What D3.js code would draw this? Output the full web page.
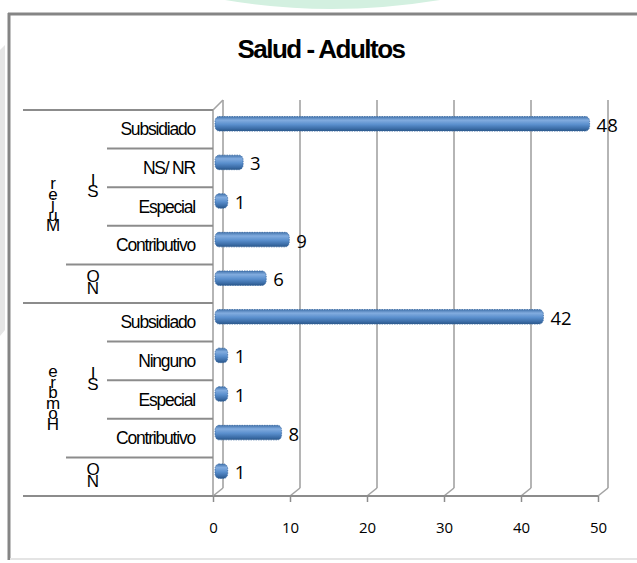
<!DOCTYPE html>
<html>
<head>
<meta charset="utf-8">
<script src="https://cdn.jsdelivr.net/npm/d3@7"></script>
<style>
  html, body { margin: 0; padding: 0; background: #ffffff; }
  svg { display: block; }
  .stack {
    writing-mode: vertical-rl;
    text-orientation: upright;
    direction: rtl;
    unicode-bidi: bidi-override;
  }
</style>
</head>
<body>
<svg id="chart" width="637" height="563"></svg>
<script>
// Rows listed from top to bottom of the chart
const genders      = ["Mujer", "Hombre"];
const rowGender    = ["Mujer", "Mujer", "Mujer", "Mujer", "Mujer",
                      "Hombre", "Hombre", "Hombre", "Hombre", "Hombre"];
const rowAfiliado  = ["SI", "SI", "SI", "SI", "NO",
                      "SI", "SI", "SI", "SI", "NO"];
const rowRegimen   = ["Subsidiado", "NS/ NR", "Especial", "Contributivo", "",
                      "Subsidiado", "Ninguno", "Especial", "Contributivo", ""];
const values       = [48, 3, 1, 9, 6, 42, 1, 1, 8, 1];
const xTicks       = [0, 10, 20, 30, 40, 50];
const title        = "Salud - Adultos";

const svg = d3.select("#chart");

// page decoration behind the chart frame
svg.append("path")
  .attr("d", "M225,0 Q330,18 440,0 Z")
  .attr("fill", "#d3f0e0");
svg.append("path")
  .attr("d", "M0,50 L5,45 L5,330 L0,336 Z")
  .attr("fill", "#e6e6e6");

// chart frame
svg.append("rect")
  .attr("x", 9).attr("y", 14).attr("width", 640).attr("height", 544)
  .attr("fill", "#ffffff");
svg.append("line").attr("x1", 9).attr("x2", 9).attr("y1", 13).attr("y2", 560)
  .attr("stroke", "#858585").attr("stroke-width", 3);
svg.append("line").attr("x1", 8).attr("x2", 637).attr("y1", 14).attr("y2", 14)
  .attr("stroke", "#858585").attr("stroke-width", 3);
svg.append("line").attr("x1", 10).attr("x2", 637).attr("y1", 559).attr("y2", 559)
  .attr("stroke", "#e4e4e4").attr("stroke-width", 2);

svg.append("text")
  .attr("x", 321).attr("y", 58)
  .attr("text-anchor", "middle")
  .attr("font-family", "Liberation Sans, Arial, sans-serif")
  .attr("font-weight", "bold")
  .attr("font-size", 26)
  .attr("letter-spacing", -1.5)
  .attr("fill", "#000")
  .text(title);

// scales
const x = d3.scaleLinear().domain([0, 50]).range([213, 598]);
const y = d3.scaleBand().domain(d3.range(values.length)).range([110, 496]);
const dx = 10, dy = -8;   // depth offset of the back wall
const axisColor = "#8c8c8c";
const gridColor = "#a3a3a3";

// gridlines on the back wall, with floor diagonals
const grid = svg.append("g");
xTicks.forEach(t => {
  grid.append("line")
    .attr("x1", x(t) + dx).attr("x2", x(t) + dx)
    .attr("y1", 100).attr("y2", 496 + dy)
    .attr("stroke", gridColor).attr("stroke-width", 1.6);
  grid.append("line")
    .attr("x1", x(t)).attr("x2", x(t) + dx)
    .attr("y1", 496).attr("y2", 496 + dy)
    .attr("stroke", gridColor).attr("stroke-width", 1.6);
});
// top diagonal of the side wall
grid.append("line")
  .attr("x1", x(0)).attr("x2", x(0) + dx)
  .attr("y1", 110).attr("y2", 100)
  .attr("stroke", gridColor).attr("stroke-width", 1.6);

// value axis along the floor front edge
const xAxis = svg.append("g")
  .attr("transform", "translate(0,496)")
  .call(d3.axisBottom(x).tickValues(xTicks).tickSize(6).tickPadding(20));
xAxis.select(".domain").attr("stroke", axisColor).attr("stroke-width", 2)
  .attr("d", `M${x(0)},0H${x(50)}`);
xAxis.selectAll(".tick line").attr("stroke", axisColor).attr("stroke-width", 1.5);
xAxis.selectAll(".tick text")
  .attr("font-family", "Open Sans, sans-serif")
  .attr("font-size", 15)
  .attr("fill", "#000");

// category axis line
svg.append("line")
  .attr("x1", x(0)).attr("x2", x(0))
  .attr("y1", 110).attr("y2", 496)
  .attr("stroke", gridColor).attr("stroke-width", 1.6);

// hierarchical separators of the category axis
const catLines = svg.append("g").attr("stroke", axisColor).attr("stroke-width", 2);
for (let i = 0; i <= values.length; i++) {
  const yy = i === values.length ? 496 : y(i);
  let x0;
  if (i === 0 || i === values.length || rowGender[i] !== rowGender[i - 1]) x0 = 23;
  else if (rowAfiliado[i] !== rowAfiliado[i - 1]) x0 = 66;
  else x0 = 107;
  catLines.append("line")
    .attr("x1", x0).attr("x2", x(0))
    .attr("y1", yy).attr("y2", yy);
}

// bar gradient (cylinder shading)
const defs = svg.append("defs");
const grad = defs.append("linearGradient")
  .attr("id", "barShade").attr("x1", 0).attr("x2", 0).attr("y1", 0).attr("y2", 1);
[["0%", "#4374ad"], ["25%", "#82acdf"], ["55%", "#5a8fcd"], ["85%", "#3a6ba5"], ["100%", "#2a5687"]]
  .forEach(([o, c]) => grad.append("stop").attr("offset", o).attr("stop-color", c));

const barH = 14.5;
const barCy = i => y(i) + y.bandwidth() / 2 - 5.5;

svg.append("g").selectAll("rect")
  .data(values)
  .join("rect")
  .attr("x", x(0) + 2)
  .attr("y", (d, i) => barCy(i) - barH / 2)
  .attr("width", d => x(d) + 7 - (x(0) + 2))
  .attr("height", barH)
  .attr("rx", 4).attr("ry", 5)
  .attr("fill", "url(#barShade)")
  .attr("stroke", "#3a6aa3")
  .attr("stroke-width", 0.8)
  .attr("stroke-dasharray", "1.5,1");

// value labels
svg.append("g").selectAll("text")
  .data(values)
  .join("text")
  .attr("x", d => x(d) + 14)
  .attr("y", (d, i) => barCy(i) + 8)
  .attr("font-family", "Open Sans, sans-serif")
  .attr("font-size", 18.5)
  .attr("fill", "#000")
  .text(d => d);

// regime labels
svg.append("g").selectAll("text")
  .data(rowRegimen)
  .join("text")
  .attr("x", 195)
  .attr("y", (d, i) => y(i) + y.bandwidth() / 2 + 6)
  .attr("text-anchor", "end")
  .attr("font-family", "Liberation Sans, Arial, sans-serif")
  .attr("font-size", 17.5)
  .attr("letter-spacing", -1.2)
  .attr("fill", "#000")
  .text(d => d);

// stacked upright labels reading bottom to top
function stacked(label, cx, cy, spacing, size) {
  svg.append("text")
    .attr("class", "stack")
    .attr("x", cx)
    .attr("y", cy)
    .attr("text-anchor", "middle")
    .attr("font-family", "Liberation Sans, Arial, sans-serif")
    .attr("font-size", size)
    .attr("letter-spacing", spacing)
    .attr("fill", "#000")
    .text(label);
}

// group spans
function span(pred) {
  const idx = d3.range(values.length).filter(pred);
  return [y(idx[0]), y(idx[idx.length - 1]) + y.bandwidth()];
}
genders.forEach(g => {
  const [a, b] = span(i => rowGender[i] === g);
  stacked(g, 53, (a + b) / 2 - 6, -8.5, 17);
  ["SI", "NO"].forEach(s => {
    const [c, d] = span(i => rowGender[i] === g && rowAfiliado[i] === s);
    stacked(s, 93, (c + d) / 2 - 5, -7.5, 17);
  });
});
</script>
</body>
</html>
